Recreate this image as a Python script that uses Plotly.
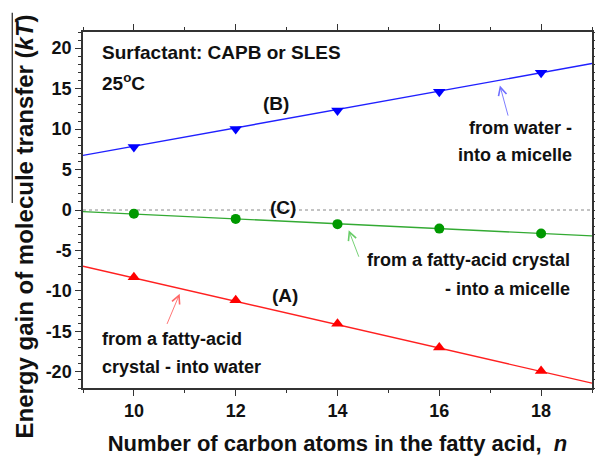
import plotly.graph_objects as go

# Data
n_carbon = [10, 12, 14, 16, 18]
gain_B = [7.8, 10.0, 12.3, 14.6, 16.95]     # from water into a micelle
gain_C = [-0.45, -1.1, -1.75, -2.3, -2.9]    # from a fatty-acid crystal into a micelle
gain_A = [-8.3, -11.15, -14.05, -17.0, -19.9]  # from a fatty-acid crystal into water

fit_x = [9, 19]
fit_B = [6.75, 18.1]
fit_C = [-0.2, -3.2]
fit_A = [-6.95, -21.4]

x_ticks = [10, 12, 14, 16, 18]
y_ticks = [-20, -15, -10, -5, 0, 5, 10, 15, 20]

FONT = "Liberation Sans, Arial, sans-serif"

fig = go.Figure()

# zero reference line
fig.add_trace(go.Scatter(x=fit_x, y=[0, 0], mode="lines",
                         line=dict(color="#888888", width=1, dash="dot"),
                         showlegend=False, hoverinfo="skip"))

# fit lines
fig.add_trace(go.Scatter(x=fit_x, y=fit_B, mode="lines",
                         line=dict(color="#2020ff", width=1.4), showlegend=False))
fig.add_trace(go.Scatter(x=fit_x, y=fit_C, mode="lines",
                         line=dict(color="#33aa33", width=1.4), showlegend=False))
fig.add_trace(go.Scatter(x=fit_x, y=fit_A, mode="lines",
                         line=dict(color="#ff2020", width=1.4), showlegend=False))

# data points
fig.add_trace(go.Scatter(x=n_carbon, y=gain_B, mode="markers",
                         marker=dict(symbol="triangle-down", size=11, color="#0000ff"),
                         showlegend=False))
fig.add_trace(go.Scatter(x=n_carbon, y=gain_C, mode="markers",
                         marker=dict(symbol="circle", size=10, color="#009900"),
                         showlegend=False))
fig.add_trace(go.Scatter(x=n_carbon, y=gain_A, mode="markers",
                         marker=dict(symbol="triangle-up", size=11, color="#ff0000"),
                         showlegend=False))

tfont = dict(family=FONT, size=18, color="#111111")
bigfont = dict(family=FONT, size=19, color="#111111")

annots = [
    dict(x=9.33, y=19.5, text="<b>Surfactant: CAPB or SLES</b>", xanchor="left", font=bigfont),
    dict(x=9.33, y=15.8, text="<b>25<sup>o</sup>C</b>", xanchor="left", font=bigfont),
    dict(x=12.8, y=13.2, text="<b>(B)</b>", xanchor="center", font=bigfont),
    dict(x=12.92, y=0.3, text="<b>(C)</b>", xanchor="center", font=bigfont),
    dict(x=12.96, y=-10.6, text="<b>(A)</b>", xanchor="center", font=bigfont),
    dict(x=18.65, y=10.1, text="<b>from water -</b>", xanchor="right", font=tfont),
    dict(x=18.65, y=6.8, text="<b>into a micelle</b>", xanchor="right", font=tfont),
    dict(x=18.61, y=-6.14, text="<b>from a fatty-acid crystal</b>", xanchor="right", font=tfont),
    dict(x=18.61, y=-9.73, text="<b>- into a micelle</b>", xanchor="right", font=tfont),
    dict(x=9.33, y=-15.92, text="<b>from a fatty-acid</b>", xanchor="left", font=tfont),
    dict(x=9.33, y=-19.43, text="<b>crystal - into water</b>", xanchor="left", font=tfont),
]
for a in annots:
    fig.add_annotation(xref="x", yref="y", showarrow=False, yanchor="middle", **a)

# arrows
arrows = [
    dict(x=17.19, y=15.4, ax=8.6, ay=31.7, arrowcolor="#6f6fff"),
    dict(x=14.22, y=-2.5, ax=10.7, ay=28, arrowcolor="#66cc66"),
    dict(x=10.9, y=-10.35, ax=-13.3, ay=31.7, arrowcolor="#ff6666"),
]
for a in arrows:
    fig.add_annotation(xref="x", yref="y", text="", showarrow=True,
                       arrowhead=5, arrowsize=1.8, arrowwidth=0.9,
                       axref="pixel", ayref="pixel", **a)

# y-axis title (placed as annotation to match its offset in the reference)
fig.add_annotation(xref="paper", yref="paper", x=-0.114, y=0.4536,
                   xanchor="center", yanchor="middle", textangle=-90, showarrow=False,
                   text="<b>Energy gain of molecule transfer (<i>kT</i>)</b>",
                   font=dict(family=FONT, size=24, color="#111111"))

# overline artefact on the y title
fig.add_shape(type="line", xref="paper", yref="paper",
              x0=-0.139, x1=-0.139, y0=0.52, y1=1.054,
              line=dict(color="#222222", width=1.2))

axis_common = dict(showline=True, linecolor="#333333", linewidth=1.5, mirror="ticks",
                   ticks="outside", ticklen=6, tickwidth=1.2, tickcolor="#333333",
                   showgrid=False, zeroline=False, automargin=False,
                   tickfont=dict(family=FONT, size=18, color="#111111"))

fig.update_xaxes(range=[9, 19], tickvals=x_ticks, ticktext=[f"<b>{v}</b>" for v in x_ticks],
                 minor=dict(dtick=1, ticks="outside", ticklen=3, tickcolor="#333333"),
                 title=dict(text="<b>Number of carbon atoms in the fatty acid,  <i>n</i></b>",
                            font=dict(family=FONT, size=22, color="#111111"), standoff=16),
                 **axis_common)
fig.update_yaxes(range=[-22, 22], tickvals=y_ticks, ticktext=[f"<b>{v}</b>" for v in y_ticks],
                 minor=dict(dtick=1, ticks="outside", ticklen=3, tickcolor="#333333"),
                 **axis_common)

fig.update_layout(width=595, height=456, margin=dict(l=83, r=3, t=32, b=68),
                  plot_bgcolor="white", paper_bgcolor="white",
                  font=dict(family=FONT))

fig.write_html("out.html")
